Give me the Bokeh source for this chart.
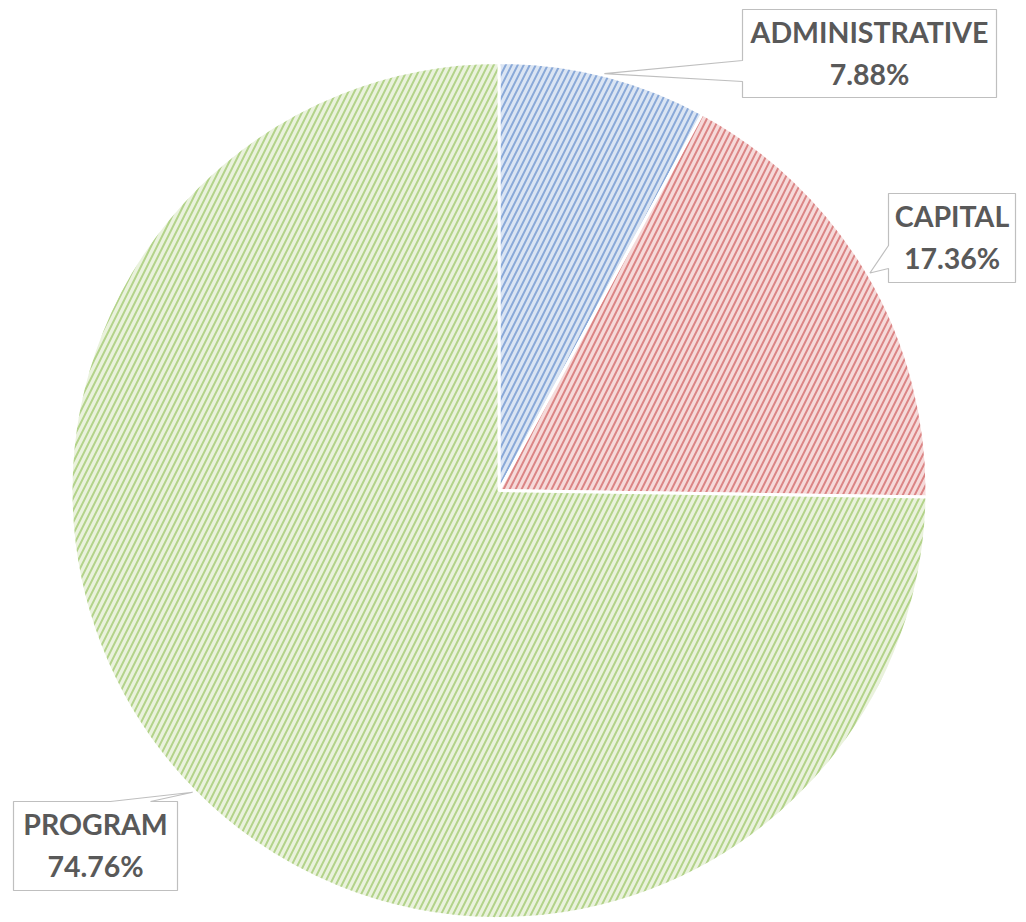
import numpy as np
from bokeh.plotting import figure
from bokeh.models import Range1d, ColumnDataSource
from bokeh.core.properties import value
from bokeh.embed import file_html
from bokeh.resources import INLINE

# ---- data ----
categories = ["ADMINISTRATIVE", "CAPITAL", "PROGRAM"]
shares = [7.88, 17.36, 74.76]
share_labels = ["7.88%", "17.36%", "74.76%"]

# ---- styles ----
fill_colors = ["#dbe5f3", "#f6dada", "#eaf2dd"]
hatch_colors = ["#8aa9d8", "#db8585", "#b3d38a"]

W, H = 1022, 918
SCREEN_H = 922

def sy(y):
    # convert a screen y coordinate (page pixels) into data y
    return SCREEN_H - y

p = figure(width=W, height=H, output_backend="svg", toolbar_location=None,
           x_range=Range1d(0, W), y_range=Range1d(sy(H), sy(0)),
           min_border=0, outline_line_color=None)
p.axis.visible = False
p.grid.visible = False
p.background_fill_color = "white"
p.border_fill_color = "white"

cx, cy, R = 498.5, sy(490), 428

frac = np.array(shares) / np.sum(shares)
ends = np.pi / 2 - 2 * np.pi * np.cumsum(frac)
starts = np.concatenate([[np.pi / 2], ends[:-1]])
mids = (starts + ends) / 2

src = ColumnDataSource(dict(start=starts, end=ends, fill=fill_colors, hatch=hatch_colors,
                            cat=categories))
p.wedge(x=cx, y=cy, radius=R, start_angle="start", end_angle="end", direction="clock",
        source=src, fill_color="fill", line_color="white", line_width=3,
        hatch_pattern="/", hatch_color="hatch", hatch_scale=12, hatch_weight=2)

# ---- callout label boxes (screen coords: left, top, right, bottom, side, notch a, notch b) ----
boxes = [
    (742, 9, 996, 97, "left", 60, 81),
    (888, 193, 1015, 282, "left", 245, 268),
    (13, 801, 177, 890, "top", 110, 150),
]
tip_r = R + 2
for i, (l, t, r, b, side, a, bb) in enumerate(boxes):
    tx = cx + tip_r * np.cos(mids[i])
    ty = cy + tip_r * np.sin(mids[i])
    if side == "left":
        xs = [l, r, r, l, l, tx, l]
        ys = [sy(t), sy(t), sy(b), sy(b), sy(bb), ty, sy(a)]
    else:
        xs = [l, a, tx, bb, r, r, l]
        ys = [sy(t), sy(t), ty, sy(t), sy(t), sy(b), sy(b)]
    p.patch(xs, ys, fill_color="white", line_color="#bfbfbf", line_width=1.2)
    xc = (l + r) / 2
    p.text(x=[xc, xc], y=[sy(t + 22), sy(t + 64)], text=[categories[i], share_labels[i]],
           text_align="center", text_baseline="middle", text_color="#595959",
           text_font=value("Lato"), text_font_style="bold", text_font_size="28.5px")

open("out.html", "w").write(file_html(p, INLINE))
